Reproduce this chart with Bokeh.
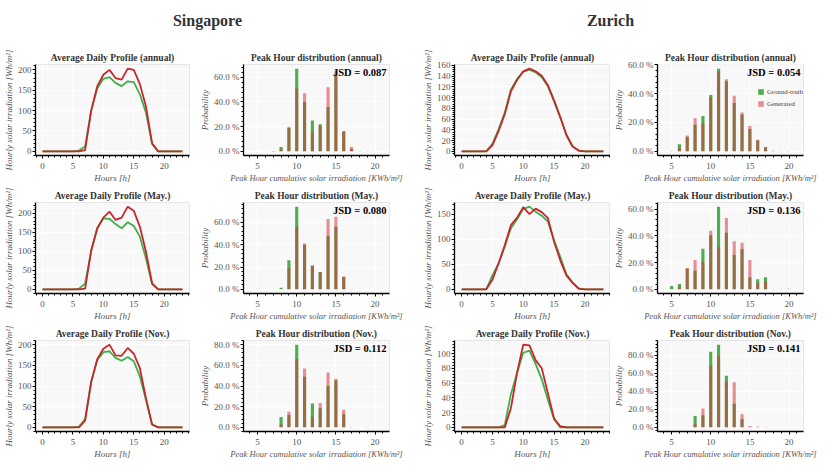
from bokeh.plotting import figure
from bokeh.layouts import column, row
from bokeh.models import Range1d, SingleIntervalTicker, PrintfTickFormatter, Label, Legend
from bokeh.embed import file_html
from bokeh.resources import INLINE

FONT = "Liberation Serif"
LINE_GREEN = "#3fae49"
LINE_RED = "#c8262b"
BAR_GREEN = "#4cae4f"
BAR_RED = "#d9363e"

# ---------------- data ----------------
hours = list(range(24))

sg_ann_gt = [0, 0, 0, 0, 0, 0, 2, 12, 100, 155, 178, 182, 168, 160, 172, 170, 140, 95, 18, 0, 0, 0, 0, 0]
sg_ann_gen = [0, 0, 0, 0, 0, 0, 0, 3, 100, 160, 188, 200, 180, 176, 203, 200, 165, 110, 20, 0, 0, 0, 0, 0]
sg_may_gt = [0, 0, 0, 0, 0, 0, 2, 15, 100, 161, 187, 186, 172, 161, 177, 167, 139, 81, 14, 0, 0, 0, 0, 0]
sg_may_gen = [0, 0, 0, 0, 0, 0, 0, 2, 103, 161, 189, 205, 183, 189, 218, 207, 165, 99, 16, 0, 0, 0, 0, 0]
sg_nov_gt = [0, 0, 0, 0, 0, 0, 2, 20, 110, 163, 182, 184, 168, 161, 170, 160, 123, 66, 7, 0, 0, 0, 0, 0]
sg_nov_gen = [0, 0, 0, 0, 0, 0, 0, 16, 110, 165, 190, 200, 174, 173, 192, 178, 143, 70, 7, 0, 0, 0, 0, 0]

zh_ann_gt = [0, 0, 0, 0, 0, 14, 41, 72, 115, 135, 148, 152, 147, 138, 121, 93, 63, 30, 9, 2, 0, 0, 0, 0]
zh_ann_gen = [0, 0, 0, 0, 0, 11, 38, 69, 112, 133, 149, 154, 149, 141, 123, 95, 64, 31, 9, 1, 0, 0, 0, 0]
zh_may_gt = [0, 0, 0, 0, 0, 28, 52, 85, 122, 140, 160, 165, 155, 147, 135, 98, 65, 30, 14, 2, 0, 0, 0, 0]
zh_may_gen = [0, 0, 0, 0, 0, 19, 52, 88, 128, 143, 164, 150, 161, 154, 142, 95, 58, 28, 13, 1, 0, 0, 0, 0]
zh_nov_gt = [0, 0, 0, 0, 0, 0, 0, 3, 45, 74, 101, 104, 86, 65, 37, 11, 0, 0, 0, 0, 0, 0, 0, 0]
zh_nov_gen = [0, 0, 0, 0, 0, 0, 0, 0, 26, 74, 112, 111, 91, 80, 46, 12, 1.5, 0, 0, 0, 0, 0, 0, 0]

peak_bins = [4, 5, 6, 7, 8, 9, 10, 11, 12, 13, 14, 15, 16, 17, 18, 19, 20]
sg_ann_hist_gt = [0, 0, 0, 0.2, 3.5, 19, 67, 40, 25, 22, 36, 62, 16, 2, 0, 0, 0]
sg_ann_hist_gen = [0, 0, 0, 0.3, 1.5, 20, 51, 47, 15.5, 21, 52, 65, 16.5, 3.5, 0.2, 0.3, 0]
sg_may_hist_gt = [0, 0, 0, 0, 1.5, 26, 74, 40, 21, 15.5, 48, 56, 11, 0.2, 0, 0, 0]
sg_may_hist_gen = [0, 0, 0, 0, 0, 19, 56, 41, 21.5, 15.5, 63, 65, 11.5, 0.3, 0.2, 0.2, 0]
sg_nov_hist_gt = [0, 0, 0, 0, 10, 12, 80, 49, 23, 18.5, 40, 45.5, 13, 0, 0, 0, 0]
sg_nov_hist_gen = [0, 0, 0, 0, 3, 15, 66, 57, 10, 23.5, 53, 47, 17, 0.3, 0, 0.3, 0]
zh_ann_hist_gt = [0, 0, 5, 10, 18.5, 24.5, 39, 57.3, 48.5, 33.5, 25.5, 15.5, 7.5, 3, 0, 0, 0]
zh_ann_hist_gen = [0, 0.3, 2.5, 11, 23, 19.5, 37.5, 55.5, 50, 38.5, 27, 17.5, 8, 2.5, 0.4, 0.3, 0.2]
zh_may_hist_gt = [0, 2.5, 4, 15.5, 14, 30.5, 40.5, 62, 42.5, 26, 30, 9, 7.5, 9, 0, 0, 0]
zh_may_hist_gen = [0, 0, 2, 16, 22, 20.5, 44, 31.5, 53.5, 36, 35, 22, 5, 6, 0.3, 0.3, 0.5]
zh_nov_hist_gt = [0, 0, 0, 0, 12.5, 13.5, 83.5, 91.5, 57, 26, 9, 0, 0, 0, 0, 0, 0]
zh_nov_hist_gen = [0, 0, 0, 0, 4, 21, 68.5, 79, 51, 50, 14.5, 1.5, 1, 0.3, 0, 0, 0]

jsd_values = ["0.087", "0.054", "0.080", "0.136", "0.112", "0.141"]
periods = ["annual", "May.", "Nov."]

FRAME_H = 91


def style(p):
    p.background_fill_color = "#f8f8f8"
    p.border_fill_color = "white"
    p.outline_line_color = "#e6e6e6"
    p.grid.grid_line_color = "white"
    p.grid.grid_line_width = 1
    for ax in p.axis:
        ax.axis_line_color = "black"
        ax.axis_line_width = 1.3
        ax.major_tick_line_color = "black"
        ax.major_tick_out = 3
        ax.major_tick_in = 0
        ax.minor_tick_line_color = "black"
        ax.minor_tick_out = 2
        ax.minor_tick_in = 0
        ax.major_label_text_font = FONT
        ax.major_label_text_font_size = "9px"
        ax.major_label_text_color = "#555555"
        ax.axis_label_text_font = FONT
        ax.axis_label_text_font_style = "italic"
        ax.axis_label_text_font_size = "9px"
        ax.axis_label_text_color = "#555555"
        ax.axis_label_standoff = 1
        ax.major_label_standoff = 1
    p.xaxis.major_label_standoff = 4
    p.title.text_font = FONT
    p.title.text_font_size = "9.5px"
    p.title.text_font_style = "bold"
    p.title.text_color = "#333333"
    p.title.align = "center"
    p.title.standoff = 4


def line_fig(period, gt, gen, fw, left, right, yint, bottom):
    top = max(max(gt), max(gen))
    p = figure(frame_width=fw, frame_height=FRAME_H, output_backend="svg",
               toolbar_location=None,
               x_range=Range1d(-1.15, 24.15), y_range=Range1d(-0.05 * top, 1.05 * top),
               min_border_left=left, min_border_right=right, min_border_top=16,
               min_border_bottom=bottom, title="Average Daily Profile (%s)" % period)
    p.line(hours, gt, color=LINE_GREEN, line_width=1.8)
    p.line(hours, gen, color=LINE_RED, line_width=1.8)
    p.xaxis.ticker = SingleIntervalTicker(interval=5, num_minor_ticks=5)
    p.yaxis.ticker = SingleIntervalTicker(interval=yint, num_minor_ticks=5)
    p.xaxis.axis_label = "Hours [h]"
    p.yaxis.axis_label = "Hourly solar irradiation [Wh/m²]"
    style(p)
    return p


def hist_fig(period, gt, gen, jsd, fw, left, right, bottom, legend=False):
    top = max(max(gt), max(gen))
    p = figure(frame_width=fw, frame_height=FRAME_H, output_backend="svg",
               toolbar_location=None,
               x_range=Range1d(3.2, 21.85), y_range=Range1d(-0.05 * top, 1.05 * top),
               min_border_left=left, min_border_right=right, min_border_top=16,
               min_border_bottom=bottom, title="Peak Hour distribution (%s)" % period)
    r1 = p.vbar(x=peak_bins, top=gt, width=0.4, fill_color=BAR_GREEN, line_color=None)
    r2 = p.vbar(x=peak_bins, top=gen, width=0.4, fill_color=BAR_RED, fill_alpha=0.55,
                line_color=None)
    p.xaxis.ticker = SingleIntervalTicker(interval=5, num_minor_ticks=5)
    p.yaxis.ticker = SingleIntervalTicker(interval=20, num_minor_ticks=5)
    p.yaxis.formatter = PrintfTickFormatter(format="%.1f %%")
    p.xaxis.axis_label = "Peak Hour cumulative solar irradiation [KWh/m²]"
    p.yaxis.axis_label = "Probability"
    style(p)
    p.xaxis.axis_label_text_font_size = "8.5px"
    p.add_layout(Label(x=21.85, y=1.05 * top, x_offset=-3, y_offset=-2,
                       text="JSD = %s" % jsd, text_align="right", text_baseline="top",
                       text_font=FONT, text_font_style="bold", text_font_size="10.5px",
                       text_color="black"))
    if legend:
        lg = Legend(items=[("Ground-truth", [r1]), ("Generated", [r2])],
                    location=(100, 48))
        lg.label_text_font = FONT
        lg.label_text_font_size = "6.8px"
        lg.label_text_color = "#444444"
        lg.glyph_width = 7
        lg.glyph_height = 7
        lg.label_height = 7
        lg.label_standoff = 3
        lg.spacing = 5
        lg.padding = 1
        lg.border_line_color = None
        lg.background_fill_alpha = 0
        p.add_layout(lg)
    return p


def header(txt, width):
    p = figure(width=width, height=48, output_backend="svg", toolbar_location=None,
               title=txt, min_border=0, min_border_top=29,
               x_range=Range1d(0, 1), y_range=Range1d(0, 1))
    p.axis.visible = False
    p.grid.visible = False
    p.outline_line_color = None
    p.background_fill_color = None
    p.title.text_font = FONT
    p.title.text_font_size = "16px"
    p.title.text_font_style = "bold"
    p.title.text_color = "#333333"
    p.title.align = "center"
    p.title.standoff = 2
    return p


sg_lines = [(sg_ann_gt, sg_ann_gen), (sg_may_gt, sg_may_gen), (sg_nov_gt, sg_nov_gen)]
zh_lines = [(zh_ann_gt, zh_ann_gen), (zh_may_gt, zh_may_gen), (zh_nov_gt, zh_nov_gen)]
sg_hists = [(sg_ann_hist_gt, sg_ann_hist_gen), (sg_may_hist_gt, sg_may_hist_gen),
            (sg_nov_hist_gt, sg_nov_hist_gen)]
zh_hists = [(zh_ann_hist_gt, zh_ann_hist_gen), (zh_may_hist_gt, zh_may_hist_gen),
            (zh_nov_hist_gt, zh_nov_hist_gen)]
zh_yint = [20, 50, 20]

rows = [row(header("Singapore", 414), header("Zurich", 392))]
for i, per in enumerate(periods):
    b = 31 if i < 2 else 27
    c1 = line_fig(per, *sg_lines[i], fw=154, left=35, right=8, yint=50, bottom=b)
    c2 = hist_fig(per, *sg_hists[i], jsd=jsd_values[2 * i], fw=146, left=42, right=27,
                  bottom=b)
    c3 = line_fig(per, *zh_lines[i], fw=156, left=38, right=0, yint=zh_yint[i], bottom=b)
    c4 = hist_fig(per, *zh_hists[i], jsd=jsd_values[2 * i + 1], fw=146, left=47, right=15,
                  bottom=b, legend=(i == 0))
    rows.append(row(c1, c2, c3, c4))

layout = column(*rows)
open("out.html", "w").write(file_html(layout, INLINE))
